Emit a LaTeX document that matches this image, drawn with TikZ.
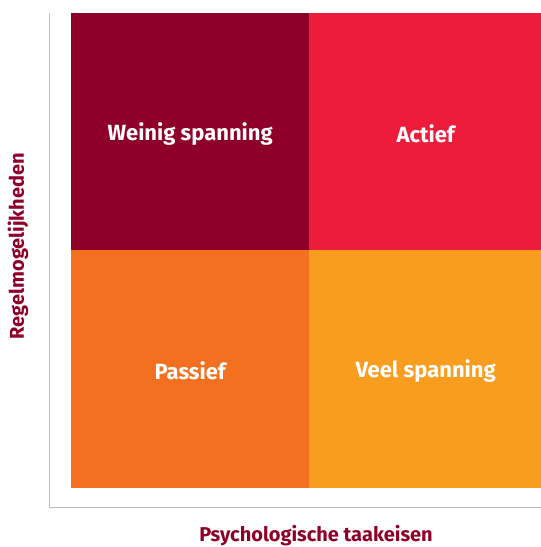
\documentclass[tikz,border=0pt]{standalone}
\usepackage{fontspec}
\setmainfont{Fira Sans}
\definecolor{darkred}{HTML}{8E0029}
\definecolor{brightred}{HTML}{ED1C3A}
\definecolor{orangeq}{HTML}{F37021}
\definecolor{amberq}{HTML}{F89D1F}
\definecolor{axisgray}{HTML}{BDBDBD}
\begin{document}
\begin{tikzpicture}[x=1pt,y=-1pt,
  quad/.style={draw=none,inner sep=0pt,minimum width=238pt,minimum height=237pt,anchor=north west},
  qlabel/.style={text=white,font=\fontsize{22}{26}\selectfont\bfseries},
  axlabel/.style={text=darkred,font=\fontsize{20}{24}\selectfont\bfseries},
  axisline/.style={draw=axisgray,line width=1.6pt}]
\useasboundingbox (0,0) rectangle (541,547);
\node[quad,fill=darkred] (q1) at (71,13) {};
\node[quad,fill=brightred,minimum width=233pt] (q2) at (309,13) {};
\node[quad,fill=orangeq,minimum height=238pt] (q3) at (71,250) {};
\node[quad,fill=amberq,minimum width=233pt,minimum height=238pt] (q4) at (309,250) {};
\node[qlabel] at ([yshift=-2pt]q1.center) {Weinig spanning};
\node[qlabel] at ([yshift=-2pt]q2.center) {Actief};
\node[qlabel] at ([yshift=-2pt]q3.center) {Passief};
\node[qlabel] at ([yshift=-2pt]q4.center) {Veel spanning};
\coordinate (top) at (49.5,13);
\coordinate (origin) at (49.5,507.5);
\coordinate (right) at (541,507.5);
\draw[axisline] (top) -- (origin) -- (right);
\node[axlabel,rotate=90] (ylab) at (18,246) {Regelmogelijkheden};
\node[axlabel] (xlab) at (316,536) {Psychologische taakeisen};
\end{tikzpicture}
\end{document}
